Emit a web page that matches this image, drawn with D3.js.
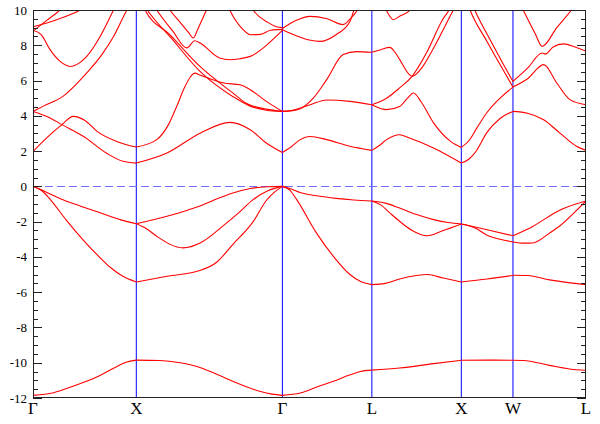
<!DOCTYPE html>
<html>
<head>
<meta charset="utf-8">
<script src="https://cdn.jsdelivr.net/npm/d3@7"></script>
<style>
  body { margin: 0; background: #fff; }
  svg { display: block; }
</style>
</head>
<body>
<svg id="chart" width="600" height="424"></svg>
<script>
// high symmetry points along the path
const kLabels = ['Γ', 'X', 'Γ', 'L', 'X', 'W', 'L'];
const kTicks = [0, 1, 2.414, 3.280, 4.146, 4.646, 5.353];

// energy axis (eV)
const yMajor = [-12, -10, -8, -6, -4, -2, 0, 2, 4, 6, 8, 10];
const yMinorStep = 0.5;

// bands, one array per segment; each line is [t along segment, energy]
const bandsGX = [
  [[0, -11.85], [.2, -11.7], [.4, -11.3], [.6, -10.85], [.8, -10.25], [.9, -9.97], [1, -9.85]],
  [[0, 0], [.08, -0.22], [.17, -0.76], [.32, -1.9], [.48, -3.0], [.65, -4.05], [.75, -4.6], [.87, -5.1], [1, -5.42]],
  [[0, 0], [.12, -0.3], [.29, -0.76], [.45, -1.1], [.65, -1.5], [.85, -1.9], [1, -2.12]],
  [[0, 1.98], [.13, 2.74], [.28, 3.5], [.39, 3.97], [.5, 3.75], [.62, 3.12], [.81, 2.55], [1, 2.23]],
  [[0, 4.25], [.165, 3.88], [.28, 3.5], [.49, 2.83], [.71, 1.89], [.87, 1.42], [1, 1.32]],
  [[0, 4.25], [.1, 4.55], [.29, 5.1], [.52, 6.43], [.67, 7.5], [.78, 8.5], [.91, 10], [1, 10.8]],
  [[0, 8.85], [.08, 8.6], [.165, 7.75], [.26, 7.1], [.36, 6.8], [.45, 7.0], [.52, 7.37], [.65, 8.5], [.78, 10], [.85, 10.8]],
  [[0, 8.8], [.13, 9.4], [.26, 10], [.35, 10.6]],
  [[0, 9.05], [.23, 9.45], [.46, 10], [.55, 10.3]]
];

const bandsXG = [
  [[0, -9.85], [.16, -9.87], [.3, -10.0], [.44, -10.28], [.55, -10.65], [.66, -11.05], [.845, -11.62], [.93, -11.78], [1, -11.85]],
  [[0, -5.42], [.21, -5.1], [.44, -4.76], [.55, -4.3], [.66, -3.3], [.8, -2.0], [.89, -0.8], [.95, -0.3], [1, 0]],
  [[0, -2.12], [.21, -1.7], [.35, -1.35], [.44, -1.1], [.525, -0.8], [.65, -0.4], [.78, -0.12], [.9, -0.02], [1, 0]],
  [[0, -2.12], [.07, -2.4], [.14, -2.83], [.32, -3.49], [.44, -3.2], [.6, -2.2], [.7, -1.5], [.8, -0.75], [.9, -0.25], [1, 0]],
  [[0, 1.32], [.21, 1.89], [.44, 3.03], [.64, 3.63], [.78, 3.21], [.89, 2.46], [1, 1.92]],
  [[0, 2.23], [.14, 2.65], [.22, 3.5], [.28, 4.6], [.33, 5.6], [.37, 6.2], [.4, 6.42], [.44, 6.3], [.6, 5.86], [.71, 5.76], [.78, 5.48], [.89, 4.82], [1, 4.25]],
  [[0, 11.2], [.06, 10], [.23, 8.6], [.436, 6.8], [.66, 5.3], [.755, 4.7], [.89, 4.38], [1, 4.25]],
  [[0, 11.0], [.075, 10], [.24, 8.4], [.436, 6.52], [.66, 5.1], [.78, 4.55], [.89, 4.32], [1, 4.25]],
  [[.07, 11], [.14, 10], [.25, 8.8], [.345, 7.85], [.4, 8.26], [.436, 8.13], [.57, 7.28], [.64, 7.18], [.71, 7.24], [.78, 7.37], [.87, 7.85], [.92, 8.22], [1, 8.85]],
  [[.16, 11], [.23, 10], [.3, 9.3], [.36, 8.7], [.39, 8.41], [.42, 8.9], [.45, 9.45], [.48, 10], [.53, 11]],
  [[.6, 10.8], [.64, 10], [.73, 8.9], [.78, 8.6], [.85, 8.62], [.92, 8.85], [1, 8.9]],
  [[.76, 10.6], [.8, 10], [.9, 9.3], [.96, 9.05], [1, 9.0]]
];

const bandsGL = [
  [[0, -11.85], [.2, -11.72], [.4, -11.35], [.57, -11.05], [.75, -10.7], [.87, -10.5], [1, -10.42]],
  [[0, 0], [.08, -0.2], [.16, -0.75], [.38, -2.64], [.57, -3.97], [.755, -5.0], [.87, -5.38], [1, -5.57]],
  [[0, 0], [.1, -0.15], [.2, -0.35], [.4, -0.55], [.6, -0.68], [.8, -0.77], [1, -0.83]],
  [[0, 1.92], [.1, 2.25], [.2, 2.65], [.31, 2.83], [.495, 2.65], [.755, 2.27], [1, 2.04]],
  [[0, 4.25], [.1, 4.3], [.31, 4.63], [.495, 4.9], [.755, 4.82], [1, 4.63]],
  [[0, 4.25], [.1, 4.28], [.2, 4.4], [.345, 5.0], [.495, 6.05], [.68, 7.47], [.83, 7.64], [1, 7.6]],
  [[0, 8.95], [.15, 9.4], [.31, 9.64], [.5, 9.5], [.68, 9.17], [.75, 9.45], [.84, 10], [.9, 10.6]],
  [[0, 8.88], [.15, 8.55], [.3, 8.3], [.42, 8.22], [.6, 8.6], [.755, 9.35], [.8, 10], [.85, 10.6]]
];

const bandsLX = [
  [[0, -10.42], [.31, -10.3], [.69, -10.05], [1, -9.86]],
  [[0, -5.57], [.15, -5.5], [.31, -5.25], [.5, -5.05], [.62, -5.0], [.8, -5.2], [1, -5.42]],
  [[0, -0.83], [.15, -0.95], [.31, -1.23], [.5, -1.6], [.7, -1.9], [.85, -2.05], [1, -2.13]],
  [[0, -0.83], [.1, -1.05], [.2, -1.5], [.31, -1.98], [.45, -2.5], [.615, -2.8], [.8, -2.5], [1, -2.13]],
  [[0, 2.04], [.08, 2.3], [.165, 2.65], [.31, 2.93], [.42, 2.74], [.69, 2.18], [1, 1.32]],
  [[0, 4.63], [.165, 4.35], [.31, 4.53], [.4, 5.0], [.465, 5.29], [.55, 4.8], [.69, 3.6], [.88, 2.55], [1, 2.21]],
  [[0, 7.6], [.1, 7.75], [.2, 7.88], [.26, 7.6], [.31, 7.2], [.45, 6.24], [.54, 6.6], [.68, 7.75], [.85, 9.4], [.93, 10.2], [.97, 10.6]],
  [[0, 4.63], [.165, 5.0], [.31, 5.58], [.45, 6.24], [.61, 7.56], [.79, 9.45], [.89, 10.2], [.95, 10.8]],
  [[.1, 10.6], [.16, 10], [.24, 9.45], [.31, 9.64], [.43, 10], [.5, 10.5]]
];

const bandsXW = [
  [[0, -9.86], [.5, -9.85], [1, -9.86]],
  [[0, -5.42], [.5, -5.25], [1, -5.05]],
  [[0, -2.13], [.48, -2.45], [1, -2.8]],
  [[0, -2.13], [.3, -2.4], [.48, -2.74], [.75, -3.0], [1, -3.15]],
  [[0, 1.32], [.15, 1.55], [.3, 2.05], [.49, 3.03], [.75, 3.85], [1, 4.25]],
  [[0, 2.21], [.15, 2.6], [.3, 3.3], [.49, 4.16], [.75, 5.0], [1, 5.63]],
  [[.05, 11], [.17, 10], [.5, 8.2], [.8, 6.65], [1, 5.63]],
  [[.12, 11], [.26, 10], [.55, 8.35], [.8, 7.0], [1, 5.95]]
];

const bandsWL = [
  [[0, -9.86], [.14, -9.87], [.5, -10.15], [.87, -10.4], [1, -10.43]],
  [[0, -5.04], [.2, -5.05], [.5, -5.3], [1, -5.57]],
  [[0, -2.8], [.27, -2.27], [.64, -1.35], [1, -0.83]],
  [[0, -3.15], [.15, -3.22], [.27, -3.21], [.5, -2.65], [.64, -2.25], [.85, -1.45], [1, -0.83]],
  [[0, 4.25], [.2, 4.15], [.42, 3.78], [.64, 3.03], [.87, 2.27], [1, 2.04]],
  [[0, 5.63], [.2, 6.1], [.42, 6.9], [.6, 5.86], [.78, 4.92], [1, 4.63]],
  [[0, 5.95], [.2, 6.7], [.4, 7.56], [.44, 7.5], [.55, 7.9], [.69, 8.08], [.85, 7.9], [1, 7.66]],
  [[0, 11.2], [.14, 10], [.3, 8.7], [.4, 7.94], [.6, 9.0], [.8, 10], [.9, 10.6]]
];

const segments = [bandsGX, bandsXG, bandsGL, bandsLX, bandsXW, bandsWL];

const config = {
  w: 600,
  h: 424,
  margin: {top: 10, right: 14, bottom: 26, left: 33}
};

function createVisualization({w, h, margin}) {
  const svg = d3.select('#chart')
    .attr('width', w)
    .attr('height', h);

  const x = d3.scaleLinear()
    .domain([0, kTicks[kTicks.length - 1]])
    .range([margin.left, w - margin.right]);

  const y = d3.scaleLinear()
    .domain([-12, 10])
    .range([h - margin.bottom, margin.top]);

  const [x0, x1] = x.range();
  const [y1, y0] = y.range();

  svg.append('clipPath')
    .attr('id', 'plot-clip')
    .append('rect')
    .attr('x', x0)
    .attr('y', y0)
    .attr('width', x1 - x0)
    .attr('height', y1 - y0);

  // vertical lines at the inner high symmetry points
  svg.append('g')
    .selectAll('line')
    .data(kTicks.slice(1, -1))
    .join('line')
    .attr('x1', d => x(d))
    .attr('x2', d => x(d))
    .attr('y1', y0)
    .attr('y2', y1)
    .style('stroke', '#0000ff')
    .style('stroke-width', 1);

  // Fermi level
  svg.append('line')
    .attr('x1', x0)
    .attr('x2', x1)
    .attr('y1', Math.round(y(0)) + 0.5)
    .attr('y2', Math.round(y(0)) + 0.5)
    .style('stroke', '#6f6fff')
    .style('stroke-width', 1)
    .style('stroke-dasharray', '8,4');

  const line = d3.line()
    .x(d => x(d[0]))
    .y(d => y(d[1]))
    .curve(d3.curveMonotoneX);

  const bands = svg.append('g')
    .attr('clip-path', 'url(#plot-clip)');

  segments.forEach((segment, i) => {
    const k0 = kTicks[i];
    const k1 = kTicks[i + 1];

    bands.append('g')
      .selectAll('path')
      .data(segment.map(pts => pts.map(([t, e]) => [k0 + t * (k1 - k0), e])))
      .join('path')
      .attr('d', line)
      .style('fill', 'none')
      .style('stroke', '#ff0000')
      .style('stroke-width', 1.1);
  });

  // frame
  svg.append('rect')
    .attr('x', x0 + 0.5)
    .attr('y', y0 + 0.5)
    .attr('width', x1 - x0 - 1)
    .attr('height', y1 - y0 - 1)
    .style('fill', 'none')
    .style('stroke', '#222')
    .style('stroke-width', 1);

  const minor = d3.range(-12, 10.001, yMinorStep).filter(v => v % 2 !== 0);

  const tickGroup = svg.append('g')
    .style('stroke', '#222')
    .style('stroke-width', 1);

  const addTicks = (values, len) => {
    tickGroup.append('g')
      .selectAll('line')
      .data(values)
      .join('line')
      .attr('x1', x0)
      .attr('x2', x0 + len)
      .attr('y1', d => Math.round(y(d)) + 0.5)
      .attr('y2', d => Math.round(y(d)) + 0.5);

    tickGroup.append('g')
      .selectAll('line')
      .data(values)
      .join('line')
      .attr('x1', x1)
      .attr('x2', x1 - len)
      .attr('y1', d => Math.round(y(d)) + 0.5)
      .attr('y2', d => Math.round(y(d)) + 0.5);
  };

  addTicks(yMajor, 9);
  addTicks(minor, 5);

  svg.append('g')
    .style('font', '13px "Liberation Serif", "DejaVu Serif", serif')
    .selectAll('text')
    .data(yMajor)
    .join('text')
    .attr('x', x0 - 6)
    .attr('y', d => y(d))
    .attr('dy', '0.35em')
    .attr('text-anchor', 'end')
    .text(d => d);

  svg.append('g')
    .style('font', '17px "Liberation Serif", "DejaVu Serif", serif')
    .selectAll('text')
    .data(kTicks)
    .join('text')
    .attr('x', d => x(d))
    .attr('y', y1 + 16)
    .attr('text-anchor', 'middle')
    .text((d, i) => kLabels[i]);
}

createVisualization(config);
</script>
</body>
</html>
